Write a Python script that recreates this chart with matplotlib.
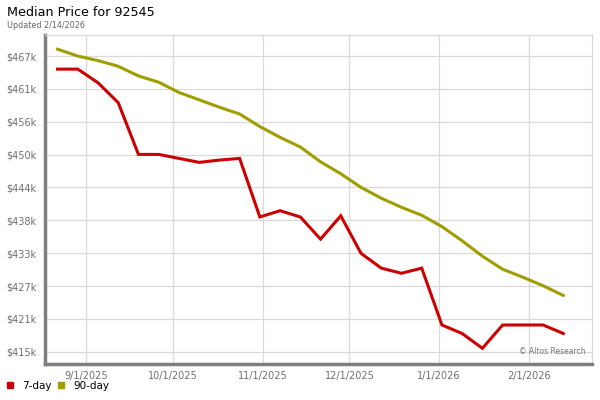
import matplotlib
matplotlib.use("Agg")
import matplotlib.pyplot as plt
from matplotlib.lines import Line2D
import numpy as np
import pandas as pd

# weekly points, 8/22/2025 .. 2/13/2026
dates = pd.date_range("2025-08-22", periods=26, freq="7D")

# median price in $k
price_7day = [464.9, 464.9, 462.5, 459.0, 449.9, 449.9, 449.2, 448.5, 448.9, 449.2,
              438.9, 440.0, 438.9, 435.0, 439.1, 432.5, 429.9, 429.0, 429.9, 419.9,
              418.4, 415.8, 419.9, 419.9, 419.9, 418.4]
price_90day = [468.4, 467.2, 466.4, 465.4, 463.7, 462.6, 460.8, 459.5, 458.2, 457.0,
               454.8, 452.9, 451.2, 448.6, 446.5, 444.1, 442.2, 440.6, 439.2, 437.2,
               434.7, 432.0, 429.7, 428.3, 426.8, 425.1]

y_ticks = np.linspace(415.2, 467.2, 10)
y_labels = ['$415k', '$421k', '$427k', '$433k', '$438k', '$444k', '$450k', '$456k', '$461k', '$467k']
x_ticks = pd.to_datetime(["2025-09-01", "2025-10-01", "2025-11-01", "2025-12-01", "2026-01-01", "2026-02-01"])
x_labels = ['9/1/2025', '10/1/2025', '11/1/2025', '12/1/2025', '1/1/2026', '2/1/2026']

RED = '#cc0000'
OLIVE = '#a09d00'
GRID = '#d9d9d9'
AXIS = '#7f7f7f'
TICK = '#6e6e6e'

fig = plt.figure(figsize=(6, 4), dpi=100)
ax = fig.add_axes([45/600, 36/400, 547/600, 329/400])

ax.plot(dates, price_7day, color=RED, lw=2.2, solid_joinstyle='miter', zorder=3)
ax.plot(dates, price_90day, color=OLIVE, lw=2.2, solid_joinstyle='miter', zorder=3)

ax.set_xlim(pd.Timestamp("2025-08-17 16:00"), pd.Timestamp("2026-02-22 22:00"))
ax.set_ylim(413.04, 470.9)

ax.set_yticks(y_ticks)
ax.set_yticklabels(y_labels)
ax.set_xticks(x_ticks)
ax.set_xticklabels(x_labels)
ax.tick_params(length=0, labelsize=7, labelcolor=TICK)
ax.tick_params(axis='y', pad=6)
ax.tick_params(axis='x', pad=5)

ax.grid(True, color=GRID, lw=0.9)
ax.set_axisbelow(True)

for s in ['top', 'right']:
    ax.spines[s].set_color(GRID)
    ax.spines[s].set_linewidth(0.9)
for s in ['left', 'bottom']:
    ax.spines[s].set_color(AXIS)
    ax.spines[s].set_linewidth(2.5)

ax.text(0.988, 0.025, '\u00a9 Altos Research', transform=ax.transAxes,
        ha='right', va='bottom', fontsize=5.5, color='#777777')

fig.text(7/600, 1 - 12/400, 'Median Price for 92545', fontsize=9.2, va='center', ha='left')
fig.text(7/600, 1 - 25/400, 'Updated 2/14/2026', fontsize=5.8, color='#666666', va='center', ha='left')

handles = [Line2D([], [], marker='s', ls='', color=RED, markersize=5),
           Line2D([], [], marker='s', ls='', color=OLIVE, markersize=5)]
fig.legend(handles, ['7-day', '90-day'], loc='lower left', bbox_to_anchor=(-0.005, 0.002),
           ncol=2, frameon=False, fontsize=7.5, handlelength=0.8, handletextpad=0.8,
           columnspacing=0.5, borderpad=0.3)

fig.savefig('out.png', dpi=100)
